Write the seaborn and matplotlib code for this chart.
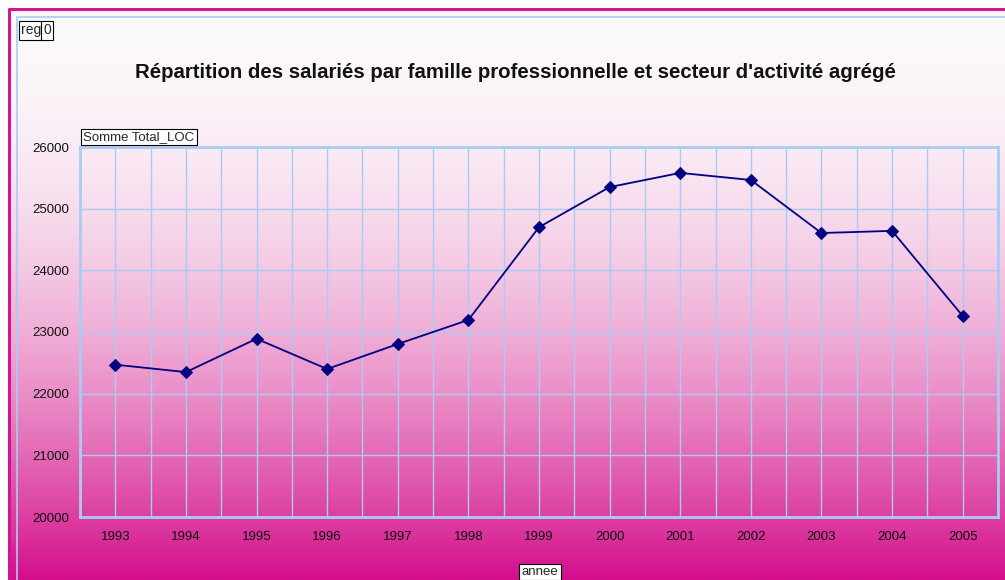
import numpy as np
import pandas as pd
import matplotlib
matplotlib.use("Agg")
import matplotlib.pyplot as plt
import seaborn as sns
from matplotlib.ticker import MultipleLocator

years = [1993, 1994, 1995, 1996, 1997, 1998, 1999, 2000, 2001, 2002, 2003, 2004, 2005]
total_loc = [22470, 22350, 22890, 22400, 22805, 23195, 24700, 25350, 25580, 25465, 24605, 24640, 23260]
y_ticks = [20000, 21000, 22000, 23000, 24000, 25000, 26000]

title = "Répartition des salariés par famille professionnelle et secteur d'activité agrégé"

sns.set_theme(style="white")
plt.rcParams['font.family'] = ['Liberation Sans', 'DejaVu Sans']

W, H = 1005, 580
fig = plt.figure(figsize=(W / 100, H / 100), dpi=100)
fig.patch.set_facecolor("white")

# background gradient
bg = fig.add_axes([0, 0, 1, 1])
bg.set_xlim(0, W)
bg.set_ylim(H, 0)
bg.axis("off")
t = np.linspace(0, 1, 400)[:, None] ** 2
top = np.array([252, 249, 251]) / 255
bot = np.array([212, 14, 138]) / 255
grad = top + (bot - top) * t[:, :, None]
grad = np.repeat(grad, 2, axis=1)
bg.imshow(grad, extent=(9, W, H, 9), aspect="auto", zorder=0)
bg.plot([9, 9, W], [H, 9, 9], color="#D4158C", lw=2.2, zorder=2)
bg.plot([17, 17, W], [H, 17, 17], color="#A8CCF4", lw=1.2, zorder=2)

df = pd.DataFrame({"annee": years, "Total_LOC": total_loc})

ax = fig.add_axes([80 / W, 1 - 517 / H, (998 - 80) / W, (517 - 147) / H])
ax.set_facecolor("none")
sns.lineplot(data=df, x="annee", y="Total_LOC", ax=ax, color="#000080",
             marker="D", markersize=6, markeredgecolor="#000080", lw=1.3, zorder=3)
ax.set_xlim(years[0] - 0.5, years[-1] + 0.5)
ax.set_ylim(y_ticks[0], y_ticks[-1])
ax.set_xticks(years)
ax.set_xticklabels([str(y) for y in years])
ax.xaxis.set_minor_locator(MultipleLocator(0.5))
ax.set_yticks(y_ticks)
ax.set_yticklabels([str(v) for v in y_ticks])
ax.grid(True, which="both", axis="x", color="#A8CCF4", lw=1)
ax.grid(True, which="major", axis="y", color="#A8CCF4", lw=1)
ax.set_axisbelow(True)
for s in ax.spines.values():
    s.set_color("#A8CCF4")
    s.set_linewidth(2)
ax.tick_params(axis="both", which="both", length=0, labelsize=9.5, colors="#111111")
ax.tick_params(axis="x", pad=10)
ax.tick_params(axis="y", pad=8)
ax.set_xlabel("")
ax.set_ylabel("")

fig.text(515 / W, 1 - 72 / H, title, ha="center", va="center",
         fontsize=14.7, fontweight="bold", color="#111111")

box = dict(boxstyle="square,pad=0.18", facecolor="white", edgecolor="black", lw=0.8)
fig.text(21 / W, 1 - 30 / H, "reg", ha="left", va="center", fontsize=10, bbox=box)
fig.text(43 / W, 1 - 30 / H, "0", ha="left", va="center", fontsize=10, bbox=box)
fig.text(83 / W, 1 - 137 / H, "Somme Total_LOC", ha="left", va="center", fontsize=9.5, bbox=box)
fig.text(540 / W, 1 - 572 / H, "annee", ha="center", va="center", fontsize=9.5, bbox=box)

fig.savefig("out.png", dpi=100)
